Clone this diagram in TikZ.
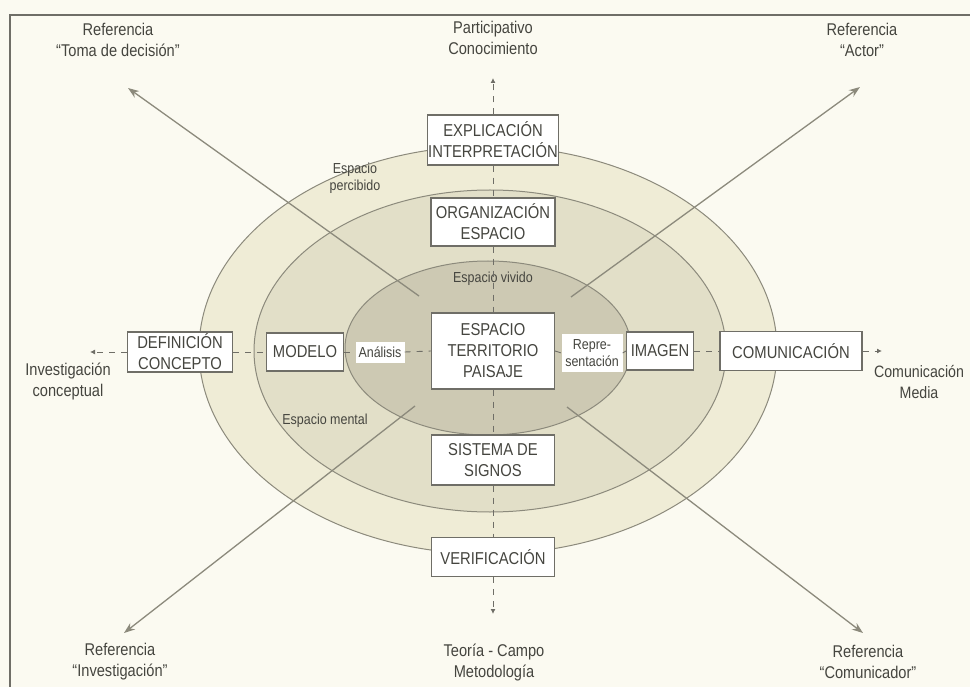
\documentclass[tikz,border=0pt]{standalone}
\usepackage{fontspec}
\setmainfont{Liberation Sans}[FakeStretch=0.86]
\usetikzlibrary{arrows.meta}
\definecolor{bg}{HTML}{FBFAF1}
\definecolor{ringA}{HTML}{EFECD6}
\definecolor{ringB}{HTML}{E2DFC8}
\definecolor{ringC}{HTML}{CDC9B3}
\definecolor{lin}{HTML}{8C8A7C}
\definecolor{txt}{HTML}{45453F}
\definecolor{boxline}{HTML}{6F6E67}
\tikzset{
  box/.style={draw=boxline, line width=1.2pt, fill=white, inner sep=1pt, align=center,
    text=txt, font=\fontsize{17.2}{21}\selectfont},
  lbl/.style={align=center, text=txt, font=\fontsize{17}{21}\selectfont},
  small/.style={align=center, text=txt, font=\fontsize{14.5}{17}\selectfont},
  diag/.style={draw=lin, line width=1.3pt, -{Stealth[length=11pt,width=8pt]}},
  dsh/.style={draw=boxline, line width=0.9pt, dash pattern=on 6pt off 6pt},
  dsharr/.style={dsh, -{Latex[length=5pt,width=5pt]}},
}
\begin{document}
\begin{tikzpicture}[x=1pt,y=-1pt]
\useasboundingbox (0,0) rectangle (970,687);
\fill[bg] (0,0) rectangle (970,687);
\draw[boxline, line width=1.3pt] (10,687) -- (10,15) -- (970,15);
% rings
\filldraw[fill=ringA, draw=lin, line width=1pt] (488,350) ellipse [x radius=289, y radius=204];
\filldraw[fill=ringB, draw=lin, line width=1pt] (490,351) ellipse [x radius=236, y radius=161];
\filldraw[fill=ringC, draw=lin, line width=1pt] (488,348) ellipse [x radius=143, y radius=87];
% diagonal arrows
\coordinate (tlS) at (419,296);
\coordinate (trS) at (571,297);
\coordinate (blS) at (415,406);
\coordinate (brS) at (567,407);
\coordinate (tlE) at (128,88);
\coordinate (trE) at (860,87);
\coordinate (blE) at (124,633);
\coordinate (brE) at (863,633);
\draw[diag] (tlS) -- (tlE);
\draw[diag] (trS) -- (trE);
\draw[diag] (blS) -- (blE);
\draw[diag] (brS) -- (brE);
% ring labels
\node[small] (perc) at (355,178) {Espacio\\percibido};
\node[small] (viv) at (493,279) {Espacio vivido};
\node[small] (ment) at (325,421) {Espacio mental};
% boxes
\node[box, minimum width=124pt, minimum height=50pt] (expl) at (493,140) {EXPLICACIÓN\\INTERPRETACIÓN};
\node[box, minimum width=124pt, minimum height=48pt] (org) at (493,222) {ORGANIZACIÓN\\ESPACIO};
\node[box, minimum width=123pt, minimum height=76pt] (esp) at (493,351) {ESPACIO\\TERRITORIO\\PAISAJE};
\node[box, minimum width=123pt, minimum height=50pt] (sis) at (493,460) {SISTEMA DE\\SIGNOS};
\node[box, minimum width=123pt, minimum height=39pt] (ver) at (493,557) {VERIFICACIÓN};
\node[box, minimum width=105pt, minimum height=40pt] (def) at (180,352) {DEFINICIÓN\\CONCEPTO};
\node[box, minimum width=77pt, minimum height=38pt] (mod) at (305,352) {MODELO};
\node[draw=none, fill=white, inner sep=1pt, minimum width=49pt, minimum height=21pt, text=txt, font=\fontsize{14.5}{16}\selectfont] (ana) at (380,352) {Análisis};
\node[draw=none, fill=white, inner sep=1pt, minimum width=61pt, minimum height=37pt, align=center, text=txt, font=\fontsize{14.5}{17}\selectfont] (rep) at (592,353) {Repre-\\sentación};
\node[box, minimum width=67pt, minimum height=38pt] (img) at (660,351) {IMAGEN};
\node[box, minimum width=142pt, minimum height=39pt] (com) at (791,351) {COMUNICACIÓN};
% dashed axes
\coordinate (upE) at (493,78);
\coordinate (dnE) at (493,614);
\coordinate (lfE) at (90,352);
\coordinate (rtE) at (882,351);
\draw[dsharr] (expl.north) -- (upE);
\draw[dsh] (expl.south) -- (org.north);
\draw[dsh] (org.south) -- (esp.north);
\draw[dsh] (esp.south) -- (sis.north);
\draw[dsh] (sis.south) -- (ver.north);
\draw[dsharr] (ver.south) -- (dnE);
\draw[dsharr] (def.west) -- (lfE);
\draw[dsh] (def.east) -- (mod.west);
\draw[dsh] (mod.east) -- (ana.west);
\draw[dsh] (ana.east) -- (esp.west);
\draw[dsh] (esp.east) -- (rep.west);
\draw[dsh] (rep.east) -- (img.west);
\draw[dsh] (img.east) -- (com.west);
\draw[dsharr] (com.east) -- (rtE);
% outer labels
\node[lbl] (part) at (493,38) {Participativo\\Conocimiento};
\node[lbl] (rtd) at (118,40) {Referencia\\``Toma de decisión''};
\node[lbl] (ract) at (862,40) {Referencia\\``Actor''};
\node[lbl] (invc) at (68,382) {Investigación\\conceptual};
\node[lbl, font=\fontsize{16.5}{21}\selectfont] (cmed) at (919,382) {Comunicación\\Media};
\node[lbl] (rinv) at (120,662) {Referencia\\``Investigación''};
\node[lbl] (teo) at (494,663) {Teoría - Campo\\Metodología};
\node[lbl] (rcom) at (868,662) {Referencia\\``Comunicador''};
\end{tikzpicture}
\end{document}
